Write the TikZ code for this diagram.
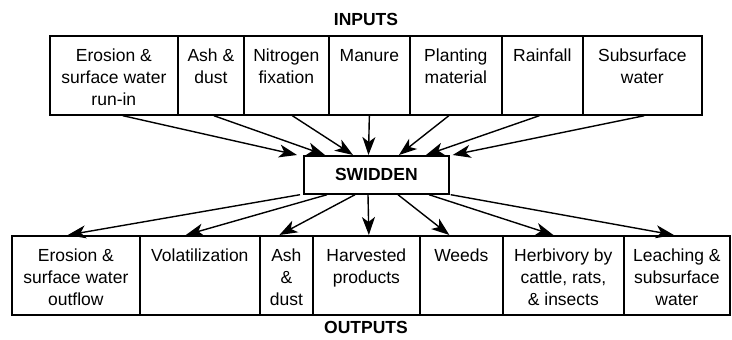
\documentclass[tikz,border=0pt]{standalone}
\usepackage{fontspec}
\setmainfont{Liberation Sans}
\usetikzlibrary{arrows.meta}
\begin{document}
\begin{tikzpicture}[x=1pt,y=-1pt,
  box/.style={draw,line width=1.7pt,rectangle,inner sep=0pt,anchor=north west},
  lbl/.style={anchor=north,inner sep=0pt,align=center,font=\fontsize{17.5}{21.7}\selectfont},
  ttl/.style={inner sep=0pt,font=\fontsize{17.5}{21}\selectfont\bfseries},
  arr/.style={line width=1.4pt,-{Stealth[length=18pt,width=13pt,inset=5pt]}}]
\useasboundingbox (0,0) rectangle (732,340);
\node[ttl] (in) at (366,19) {INPUTS};
\node[ttl] (out) at (366,327) {OUTPUTS};
% input boxes
\node[box,minimum width=128pt,minimum height=79pt] (i1) at (49,35) {};
\node[box,minimum width=66pt,minimum height=79pt] (i2) at (177,35) {};
\node[box,minimum width=85pt,minimum height=79pt] (i3) at (243,35) {};
\node[box,minimum width=81pt,minimum height=79pt] (i4) at (328,35) {};
\node[box,minimum width=92pt,minimum height=79pt] (i5) at (409,35) {};
\node[box,minimum width=81pt,minimum height=79pt] (i6) at (501,35) {};
\node[box,minimum width=119pt,minimum height=79pt] (i7) at (582,35) {};
\node[lbl] (t1) at ([yshift=-14pt]i1.north) {Erosion \&\\surface water\\run-in};
\node[lbl] (t2) at ([yshift=-14pt]i2.north) {Ash \&\\dust};
\node[lbl] (t3) at ([yshift=-14pt]i3.north) {Nitrogen\\fixation};
\node[lbl] (t4) at ([yshift=-14pt]i4.north) {Manure};
\node[lbl] (t5) at ([yshift=-14pt]i5.north) {Planting\\material};
\node[lbl] (t6) at ([yshift=-14pt]i6.north) {Rainfall};
\node[lbl] (t7) at ([yshift=-14pt]i7.north) {Subsurface\\water};
% swidden
\node[box,minimum width=145pt,minimum height=38pt] (sw) at (303,155) {};
\node[ttl] (swt) at (sw.center) {SWIDDEN};
% output boxes
\node[box,minimum width=128pt,minimum height=79pt] (o1) at (11,235) {};
\node[box,minimum width=120pt,minimum height=79pt] (o2) at (139,235) {};
\node[box,minimum width=53pt,minimum height=79pt] (o3) at (259,235) {};
\node[box,minimum width=107pt,minimum height=79pt] (o4) at (312,235) {};
\node[box,minimum width=83pt,minimum height=79pt] (o5) at (419,235) {};
\node[box,minimum width=121pt,minimum height=79pt] (o6) at (502,235) {};
\node[box,minimum width=106pt,minimum height=79pt] (o7) at (623,235) {};
\node[lbl] (u1) at ([yshift=-14pt]o1.north) {Erosion \&\\surface water\\outflow};
\node[lbl] (u2) at ([yshift=-14pt]o2.north) {Volatilization};
\node[lbl] (u3) at ([yshift=-14pt]o3.north) {Ash\\\&\\dust};
\node[lbl] (u4) at ([yshift=-14pt]o4.north) {Harvested\\products};
\node[lbl] (u5) at ([yshift=-14pt]o5.north) {Weeds};
\node[lbl] (u6) at ([yshift=-14pt]o6.north) {Herbivory by\\cattle, rats,\\\& insects};
\node[lbl] (u7) at ([yshift=-14pt]o7.north) {Leaching \&\\subsurface\\water};
% input arrows
\draw[arr] ([xshift=9pt]i1.south) -- ([xshift=-6pt]sw.north west);
\draw[arr] ([xshift=3pt]i2.south) -- ([xshift=22pt]sw.north west);
\draw[arr] ([xshift=6pt]i3.south) -- ([xshift=50pt]sw.north west);
\draw[arr] (i4.south) -- ([xshift=65.5pt]sw.north west);
\draw[arr] ([xshift=-7pt]i5.south) -- ([xshift=96pt]sw.north west);
\draw[arr] ([xshift=-3pt]i6.south) -- ([xshift=123pt]sw.north west);
\draw[arr] ([xshift=2pt]i7.south) -- ([xshift=3pt]sw.north east);
% output arrows
\draw[arr] ([xshift=-3pt]sw.south west) -- ([xshift=-8pt]o1.north);
\draw[arr] ([xshift=24pt]sw.south west) -- ([xshift=-14pt]o2.north);
\draw[arr] ([xshift=52pt]sw.south west) -- ([xshift=-7pt]o3.north);
\draw[arr] ([xshift=65pt]sw.south west) -- ([xshift=2.5pt]o4.north);
\draw[arr] ([xshift=95pt]sw.south west) -- ([xshift=-12pt]o5.north);
\draw[arr] ([xshift=126pt]sw.south west) -- ([xshift=-10pt]o6.north);
\draw[arr] ([xshift=1pt]sw.south east) -- ([xshift=-3pt]o7.north);
\end{tikzpicture}
\end{document}
